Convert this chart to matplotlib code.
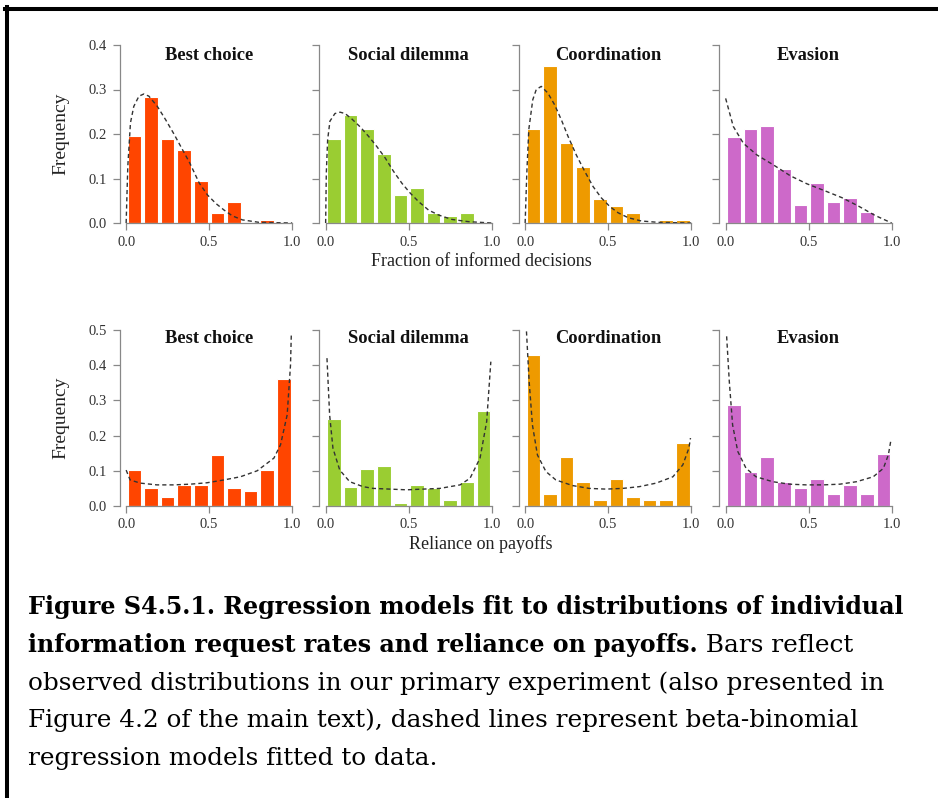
import numpy as np
import matplotlib
matplotlib.use('Agg')
import matplotlib.pyplot as plt
import matplotlib.transforms as mtransforms
from matplotlib.lines import Line2D

# panels and colours
games = ["Best choice", "Social dilemma", "Coordination", "Evasion"]
colors = ["#FF4500", "#9ACD32", "#EE9A00", "#CD69C9"]
bin_mid = np.arange(10) / 10 + 0.05

# observed frequencies, fraction of informed decisions (10 bins)
info_best = [0.195, 0.283, 0.188, 0.164, 0.094, 0.023, 0.047, 0.0, 0.0075, 0.0]
info_social = [0.188, 0.242, 0.211, 0.155, 0.062, 0.078, 0.023, 0.015, 0.023, 0.0]
info_coord = [0.211, 0.352, 0.179, 0.126, 0.054, 0.039, 0.023, 0.0, 0.006, 0.006]
info_evasion = [0.194, 0.211, 0.218, 0.122, 0.041, 0.089, 0.048, 0.056, 0.024, 0.0]

# observed frequencies, reliance on payoffs (10 bins)
rel_best = [0.102, 0.051, 0.025, 0.059, 0.059, 0.145, 0.051, 0.043, 0.102, 0.360]
rel_social = [0.246, 0.053, 0.106, 0.114, 0.008, 0.060, 0.052, 0.018, 0.069, 0.271]
rel_coord = [0.428, 0.034, 0.138, 0.068, 0.016, 0.076, 0.025, 0.016, 0.016, 0.179]
rel_evasion = [0.287, 0.096, 0.139, 0.068, 0.051, 0.078, 0.034, 0.061, 0.034, 0.148]

# fitted beta-binomial curves as (x, y)
info_best_fit = [(0, 0), (0.01, 0.127), (0.026, 0.225), (0.046, 0.262), (0.077, 0.285),
                 (0.107, 0.29), (0.137, 0.285), (0.188, 0.262), (0.238, 0.232),
                 (0.288, 0.2), (0.339, 0.165), (0.383, 0.135), (0.44, 0.09),
                 (0.49, 0.063), (0.54, 0.044), (0.59, 0.029), (0.64, 0.016),
                 (0.70, 0.007), (0.80, 0.0015), (1.0, 0)]
info_social_fit = [(0, 0), (0.004, 0.112), (0.012, 0.187), (0.026, 0.229), (0.056, 0.246),
                   (0.087, 0.249), (0.117, 0.246), (0.157, 0.234), (0.208, 0.216),
                   (0.258, 0.195), (0.308, 0.172), (0.359, 0.146), (0.409, 0.116),
                   (0.46, 0.089), (0.51, 0.067), (0.56, 0.048), (0.62, 0.029),
                   (0.68, 0.018), (0.76, 0.008), (0.86, 0.003), (1.0, 0)]
info_coord_fit = [(0, 0), (0.01, 0.112), (0.022, 0.21), (0.046, 0.277), (0.067, 0.3),
                  (0.097, 0.307), (0.137, 0.292), (0.177, 0.266), (0.218, 0.232),
                  (0.258, 0.195), (0.308, 0.153), (0.359, 0.116), (0.409, 0.082),
                  (0.46, 0.056), (0.51, 0.037), (0.56, 0.023), (0.62, 0.012),
                  (0.70, 0.0045), (0.80, 0.0015), (1.0, 0)]
info_evasion_fit = [(0, 0.28), (0.046, 0.217), (0.107, 0.179), (0.188, 0.153),
                    (0.29, 0.13), (0.39, 0.106), (0.49, 0.088), (0.6, 0.072),
                    (0.7, 0.057), (0.8, 0.038), (0.9, 0.017), (1.0, 0)]

rel_best_fit = [(0, 0.102), (0.024, 0.074), (0.085, 0.065), (0.185, 0.06), (0.286, 0.06),
                (0.386, 0.062), (0.487, 0.066), (0.588, 0.074), (0.688, 0.083),
                (0.789, 0.1), (0.89, 0.136), (0.93, 0.174), (0.97, 0.259),
                (0.99, 0.40), (0.995, 0.49)]
rel_social_fit = [(0.008, 0.42), (0.024, 0.259), (0.044, 0.164), (0.085, 0.102),
                  (0.145, 0.069), (0.225, 0.055), (0.286, 0.05), (0.487, 0.046),
                  (0.688, 0.05), (0.81, 0.06), (0.87, 0.079), (0.93, 0.136),
                  (0.97, 0.24), (0.995, 0.41)]
rel_coord_fit = [(0.008, 0.496), (0.024, 0.354), (0.044, 0.23), (0.074, 0.145),
                 (0.125, 0.098), (0.185, 0.074), (0.286, 0.058), (0.386, 0.05),
                 (0.487, 0.048), (0.588, 0.05), (0.688, 0.055), (0.789, 0.065),
                 (0.89, 0.083), (0.95, 0.117), (0.986, 0.164), (0.996, 0.193)]
rel_evasion_fit = [(0.006, 0.482), (0.022, 0.354), (0.042, 0.23), (0.073, 0.155),
                   (0.123, 0.107), (0.183, 0.083), (0.284, 0.069), (0.385, 0.062),
                   (0.486, 0.06), (0.587, 0.06), (0.688, 0.062), (0.788, 0.069),
                   (0.889, 0.083), (0.95, 0.107), (0.98, 0.145), (0.994, 0.183)]

info_rows = [info_best, info_social, info_coord, info_evasion]
rel_rows = [rel_best, rel_social, rel_coord, rel_evasion]
info_fits = [info_best_fit, info_social_fit, info_coord_fit, info_evasion_fit]
rel_fits = [rel_best_fit, rel_social_fit, rel_coord_fit, rel_evasion_fit]

caption_lines = [
    "Figure S4.5.1. Regression models fit to distributions of individual",
    "information request rates and reliance on payoffs.",
    " Bars reflect",
    "observed distributions in our primary experiment (also presented in",
    "Figure 4.2 of the main text), dashed lines represent beta-binomial",
    "regression models fitted to data.",
]

serif = "Liberation Serif"
cap_font = "DejaVu Serif"
W, H = 938, 798
fig = plt.figure(figsize=(W / 100, H / 100), dpi=100)

lefts = [119.5, 319, 518.5, 719]   # px
axw = 179.3
rows = [
    # bottom px, height px, ymax, data, fits, xlabel, xlabel y, ylabel y, title frac
    (223, 178, 0.4, info_rows, info_fits, "Fraction of informed decisions", 262, 134, 0.94),
    (506, 176, 0.5, rel_rows, rel_fits, "Reliance on payoffs", 544, 418, 0.95),
]

for bot, hgt, ymax, data, fits, xlab, xlab_y, ylab_y, tfrac in rows:
    for i, g in enumerate(games):
        ax = fig.add_axes([lefts[i] / W, 1 - bot / H, axw / W, hgt / H])
        ax.bar(bin_mid, data[i], width=0.082, color=colors[i],
               edgecolor="white", linewidth=0.8)
        fx, fy = zip(*fits[i])
        ax.plot(fx, fy, color="#333333", lw=1.0, dashes=(3, 2.2))
        ax.set_xlim(-0.04, 1.04)
        ax.set_ylim(0, ymax)
        ax.set_xticks([0, 0.5, 1.0])
        ax.set_xticklabels(["0.0", "0.5", "1.0"])
        yt = np.arange(0, ymax + 0.01, 0.1)
        ax.set_yticks(yt)
        if i == 0:
            ax.set_yticklabels(["%.1f" % v for v in yt])
        else:
            ax.set_yticklabels([])
        for s in ["top", "right"]:
            ax.spines[s].set_visible(False)
        ax.spines["left"].set_bounds(0, ymax)
        ax.spines["bottom"].set_bounds(0, 1)
        for s in ["left", "bottom"]:
            ax.spines[s].set_color("#888888")
            ax.spines[s].set_linewidth(0.9)
        ax.tick_params(length=5, width=0.9, color="#888888", labelsize=10.5,
                       labelcolor="#333333")
        ax.tick_params(axis="x", pad=4)
        ax.tick_params(axis="y", pad=4)
        for lab in ax.get_xticklabels() + ax.get_yticklabels():
            lab.set_fontfamily(serif)
        ax.patch.set_alpha(0)
        tr = mtransforms.blended_transform_factory(ax.transData, ax.transAxes)
        ax.text(0.5, tfrac, g, transform=tr, ha="center", va="center",
                fontsize=13.3, fontweight="bold", family=serif, color="#111111")
    fig.text(481 / W, 1 - xlab_y / H, xlab, ha="center", va="center",
             fontsize=13, family=serif, color="#222222")
    fig.text(61 / W, 1 - ylab_y / H, "Frequency", rotation=90, ha="center",
             va="center", fontsize=14, family=serif, color="#222222")

# caption, sized so lines span the same width as in the source
rend = fig.canvas.get_renderer()
probe = fig.text(0, 0, caption_lines[0], fontsize=20, fontweight="bold", family=cap_font)
bold_size = 20 * 875 / probe.get_window_extent(renderer=rend).width
probe.remove()
probe = fig.text(0, 0, caption_lines[3], fontsize=20, family=cap_font)
reg_size = 20 * 852 / probe.get_window_extent(renderer=rend).width
probe.remove()

x0 = 28 / W
fig.text(x0, 1 - 607 / H, caption_lines[0], fontsize=bold_size, fontweight="bold",
         family=cap_font, va="center", color="black")
t2 = fig.text(x0, 1 - 645 / H, caption_lines[1], fontsize=bold_size, fontweight="bold",
              family=cap_font, va="center", color="black")
bb = t2.get_window_extent(renderer=rend)
fig.text(bb.x1 / W, 1 - 645 / H, caption_lines[2], fontsize=reg_size, family=cap_font,
         va="center", color="black")
for line, yp in zip(caption_lines[3:], [683, 720, 758]):
    fig.text(x0, 1 - yp / H, line, fontsize=reg_size, family=cap_font,
             va="center", color="black")

# frame (top and left edges)
fig.add_artist(Line2D([5 / W, 1], [1 - 9 / H, 1 - 9 / H], color="black", lw=2.9,
                      transform=fig.transFigure))
fig.add_artist(Line2D([7 / W, 7 / W], [0, 1 - 7 / H], color="black", lw=2.9,
                      transform=fig.transFigure))

fig.savefig("out.png", dpi=100)
